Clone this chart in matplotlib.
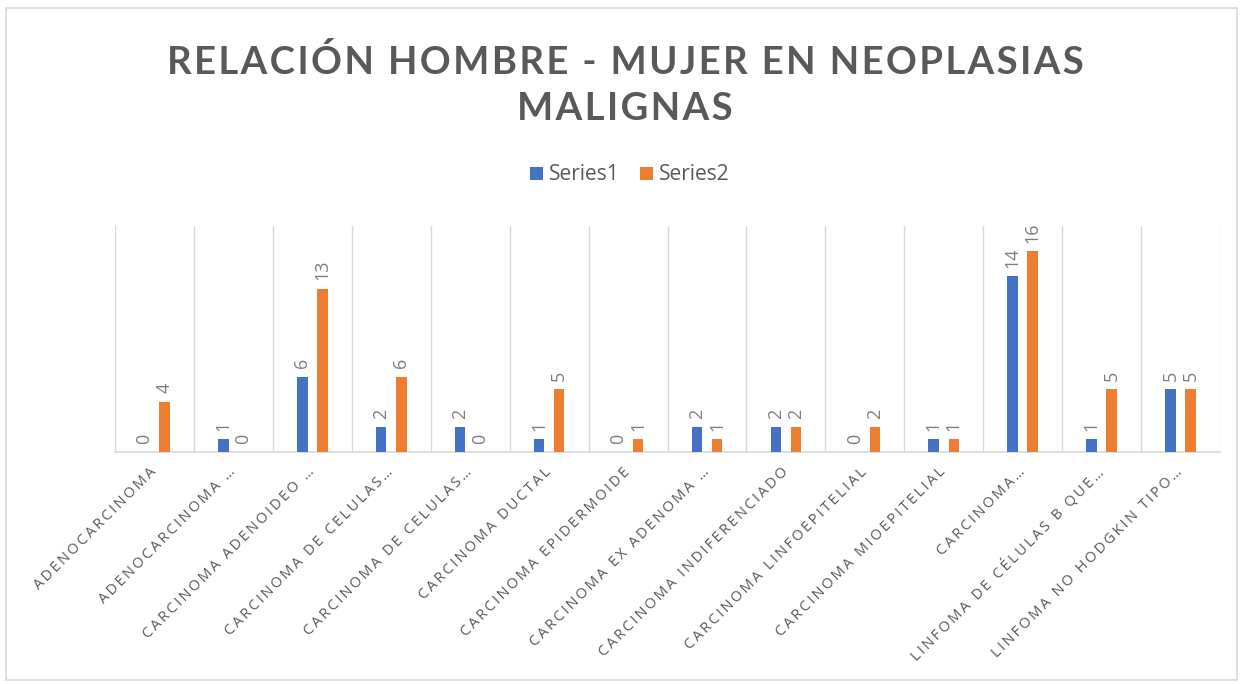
import matplotlib
matplotlib.use("Agg")
import matplotlib.pyplot as plt
import numpy as np
from matplotlib.patches import Rectangle

categories = [
    "ADENOCARCINOMA",
    "ADENOCARCINOMA …",
    "CARCINOMA ADENOIDEO …",
    "CARCINOMA DE CELULAS…",
    "CARCINOMA DE CELULAS…",
    "CARCINOMA DUCTAL",
    "CARCINOMA EPIDERMOIDE",
    "CARCINOMA EX ADENOMA …",
    "CARCINOMA INDIFERENCIADO",
    "CARCINOMA LINFOEPITELIAL",
    "CARCINOMA MIOEPITELIAL",
    "CARCINOMA…",
    "LINFOMA DE CÉLULAS B QUE…",
    "LINFOMA NO HODGKIN TIPO…",
]
series1 = [0, 1, 6, 2, 2, 1, 0, 2, 2, 0, 1, 14, 1, 5]
series2 = [4, 0, 13, 6, 0, 5, 1, 1, 2, 2, 1, 16, 5, 5]
series_names = ["Series1", "Series2"]
title_lines = ["RELACIÓN HOMBRE - MUJER EN NEOPLASIAS", "MALIGNAS"]

BLUE = "#4472C4"
ORANGE = "#ED7D31"
TXT = "#595959"
LBL = "#7F7F7F"
GRID = "#D9D9D9"


def spaced(s, gap="\u2009", word_gap=" \u2009\u2009"):
    words = s.split(" ")
    return word_gap.join(gap.join(list(w)) for w in words)


W, H = 1248, 684
fig = plt.figure(figsize=(W / 100, H / 100), dpi=100)
fig.patch.set_facecolor("white")

# chart border
fig.add_artist(Rectangle((6 / W, 4 / H), (1237 - 6) / W, (680 - 8) / H,
                         transform=fig.transFigure, fill=False,
                         edgecolor=GRID, lw=1.2))

ax = fig.add_axes([115 / W, 1 - 452 / H, (1220 - 115) / W, (452 - 226) / H])
n = len(categories)
x = np.arange(n)
bw = 0.133
off = 0.127
b1 = ax.bar(x - off, series1, bw, color=BLUE, label=series_names[0], zorder=3)
b2 = ax.bar(x + off, series2, bw, color=ORANGE, label=series_names[1], zorder=3)

ax.set_xlim(-0.5, n - 0.5)
ax.set_ylim(0, 18)
for b in np.arange(-0.5, n, 1.0):
    ax.axvline(b, color=GRID, lw=1, zorder=1)

for bars, vals in ((b1, series1), (b2, series2)):
    for r, v in zip(bars, vals):
        ax.annotate(str(v), (r.get_x() + r.get_width() / 2, v),
                    xytext=(0, 6), textcoords="offset points",
                    rotation=90, ha="center", va="bottom",
                    fontsize=13, color=LBL, family=["Open Sans", "DejaVu Sans"])

for s in ("top", "left", "right"):
    ax.spines[s].set_visible(False)
ax.spines["bottom"].set_color(GRID)
ax.spines["bottom"].set_linewidth(1.2)
ax.set_yticks([])
ax.set_xticks(x)
ax.set_xticklabels([spaced(c) for c in categories], rotation=45, ha="right",
                   va="center", rotation_mode="anchor", fontsize=10.5,
                   color=TXT, family=["Open Sans", "DejaVu Sans"])
ax.tick_params(axis="x", length=0, pad=13)

title_sp = "\n".join(spaced(t, gap="\u200a", word_gap=" \u200a\u200a") for t in title_lines)
fig.text(625 / W, 1 - 85 / H, title_sp, ha="center", va="center",
         fontsize=27.5, fontweight="bold", color=TXT, linespacing=1.4,
         family=["Lato", "DejaVu Sans"])

fig.legend(handles=[b1, b2], labels=series_names, loc="center",
           bbox_to_anchor=(630 / W, 1 - 175 / H), ncol=2, frameon=False,
           handlelength=0.6, handleheight=0.6, handletextpad=0.3,
           columnspacing=1.0, labelcolor=TXT,
           prop={"family": ["Open Sans", "DejaVu Sans"], "size": 15})

fig.savefig("out.png", dpi=100, facecolor="white")
